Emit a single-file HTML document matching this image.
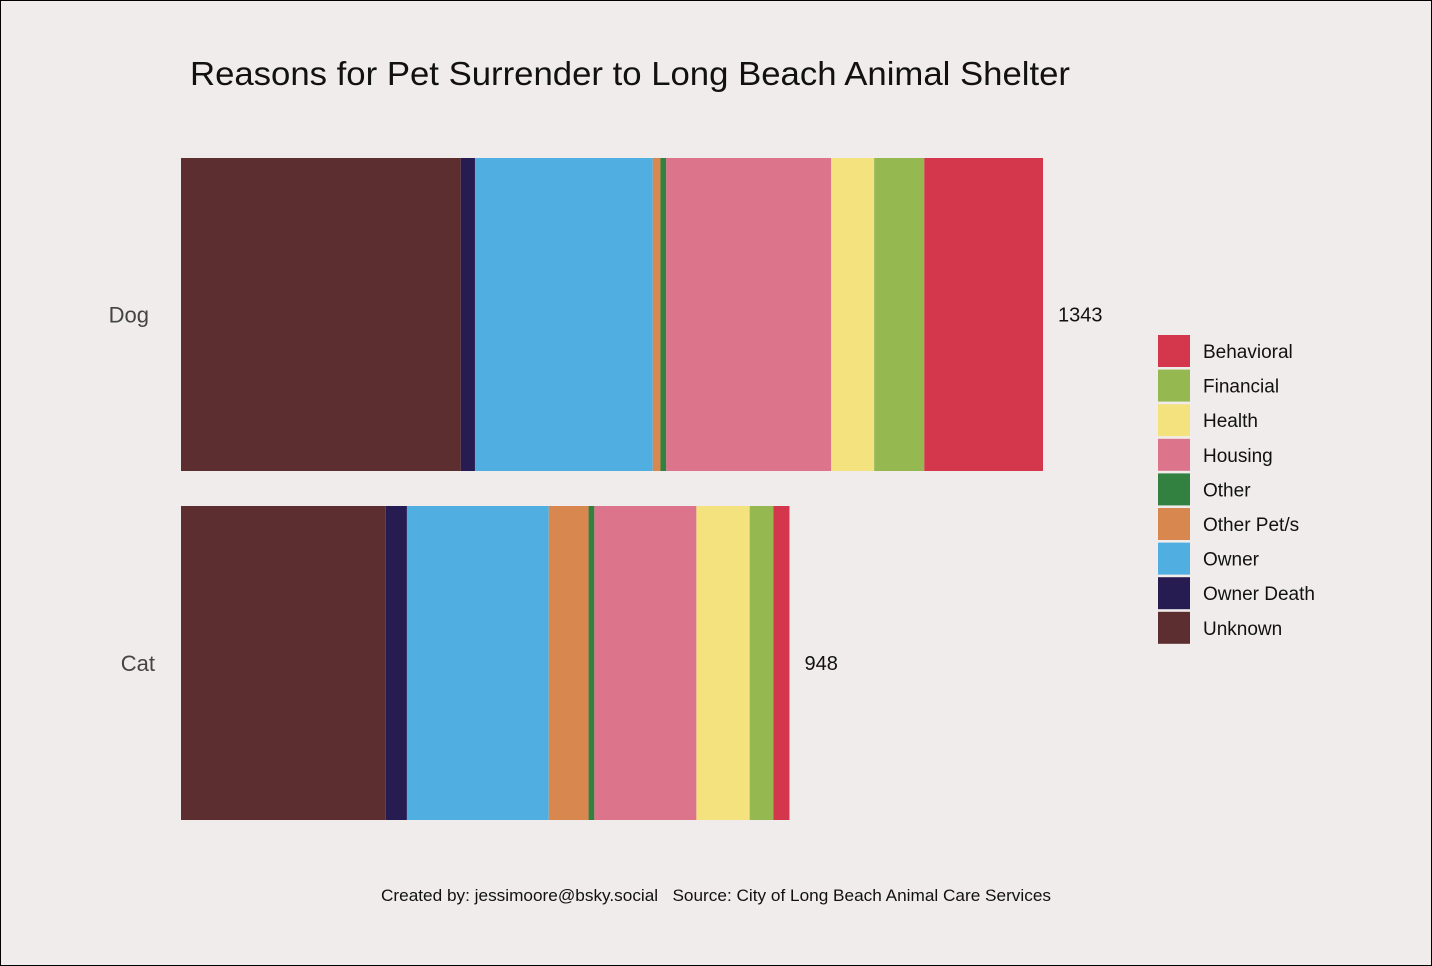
<!DOCTYPE html>
<html><head><meta charset="utf-8"><style>
html,body{margin:0;padding:0;}
body{width:1432px;height:966px;background:#f0ecec;box-sizing:border-box;border:1px solid #000;overflow:hidden;font-family:"Liberation Sans",sans-serif;}
</style></head><body>
<svg id="chart" width="1430" height="964" viewBox="1 1 1430 964" style="position:absolute;left:1px;top:1px">
<text x="190" y="85" font-size="33" fill="#111" textLength="880" lengthAdjust="spacingAndGlyphs">Reasons for Pet Surrender to Long Beach Animal Shelter</text>
<g id="bars"></g>
<g id="legend"></g>
<text x="381" y="901" font-size="17" fill="#111" xml:space="preserve" textLength="670" lengthAdjust="spacingAndGlyphs">Created by: jessimoore@bsky.social   Source: City of Long Beach Animal Care Services</text>
</svg>
<script>
const categories = ["Dog","Cat"];
const reasons = ["Unknown","Owner Death","Owner","Other Pet/s","Other","Housing","Health","Financial","Behavioral"];
const dogValues = [436,22,277,12,9,257,67,78,185];
const catValues = [319,33,221,62,9,159,83,37,25];
const totals = [1343,948];
const colors = {"Behavioral":"#d4374c","Financial":"#95b850","Health":"#f4e27e","Housing":"#dc748b","Other":"#338141","Other Pet/s":"#d8884f","Owner":"#50aee0","Owner Death":"#271c52","Unknown":"#5c2e2f"};
const legendOrder = ["Behavioral","Financial","Health","Housing","Other","Other Pet/s","Owner","Owner Death","Unknown"];
const series = [dogValues, catValues];
const ns="http://www.w3.org/2000/svg";
const x0=181, pxPer=862/1343;
const xs = v => x0 + v*pxPer;
const bandTop=[158,506], bandH=[313,314];
const bars=document.getElementById('bars');
categories.forEach((c,i)=>{
  let cum=0;
  series[i].forEach((v,j)=>{
    const r=document.createElementNS(ns,'rect');
    r.setAttribute('x',xs(cum)); r.setAttribute('width',xs(cum+v)-xs(cum));
    r.setAttribute('y',bandTop[i]); r.setAttribute('height',bandH[i]);
    r.setAttribute('fill',colors[reasons[j]]);
    
    
    bars.appendChild(r); cum+=v;
  });
  const yc=bandTop[i]+bandH[i]/2;
  const lab=document.createElementNS(ns,'text');
  lab.setAttribute('x',i==0?149:155); lab.setAttribute('y',yc+8); lab.setAttribute('text-anchor','end');
  lab.setAttribute('font-size','22'); lab.setAttribute('fill','#444'); lab.textContent=c;
  
  
  bars.appendChild(lab);
  const tot=document.createElementNS(ns,'text');
  tot.setAttribute('x',xs(totals[i])+15); tot.setAttribute('y',yc+7);
  tot.setAttribute('font-size','20'); tot.setAttribute('fill','#111'); tot.textContent=totals[i];
  
  
  bars.appendChild(tot);
});
const lg=document.getElementById('legend');
legendOrder.forEach((n,k)=>{
  const y=335+k*34.6;
  const r=document.createElementNS(ns,'rect');
  r.setAttribute('x',1158); r.setAttribute('y',y); r.setAttribute('width',32); r.setAttribute('height',32);
  r.setAttribute('fill',colors[n]);
  
  
  lg.appendChild(r);
  const t=document.createElementNS(ns,'text');
  t.setAttribute('x',1203); t.setAttribute('y',y+23); t.setAttribute('font-size','19'); t.setAttribute('fill','#111');
  t.textContent=n;
  
  
  lg.appendChild(t);
});
</script>
</body></html>
